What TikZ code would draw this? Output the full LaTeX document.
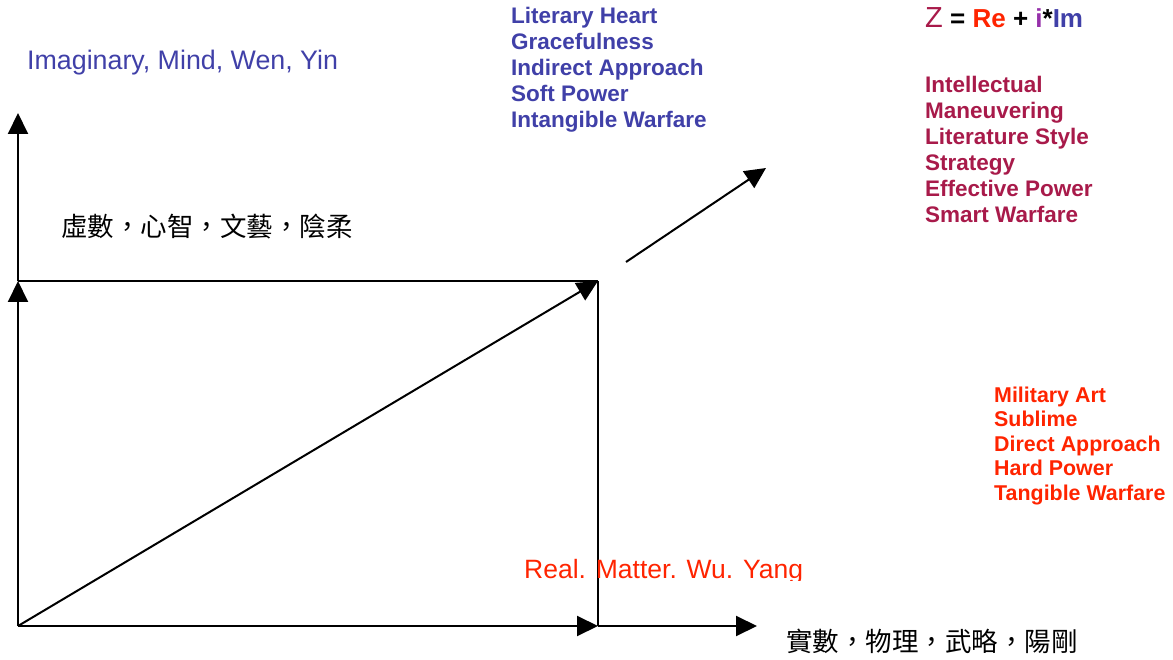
\documentclass[tikz,border=0pt]{standalone}
\usepackage{fontspec}
\setmainfont{Liberation Sans}
\newfontfamily\cjk{Noto Sans CJK TC}
\usetikzlibrary{arrows.meta}
\definecolor{blueT}{RGB}{64,64,168}
\definecolor{redT}{RGB}{255,36,0}
\definecolor{maroonT}{RGB}{168,26,74}
\definecolor{purpleT}{RGB}{150,48,170}
\tikzset{
  axis/.style={line width=2pt, -{Triangle[length=21pt,width=20pt]}},
  plain/.style={line width=2pt},
  lbl/.style={inner sep=0pt, anchor=base west},
  bluelist/.style={lbl, text=blueT, font=\fontsize{22.5}{26}\selectfont\bfseries},
  maroonlist/.style={lbl, text=maroonT, font=\fontsize{22.5}{26}\selectfont\bfseries},
  redlist/.style={lbl, text=redT, font=\fontsize{21.4}{24.5}\selectfont\bfseries},
  cjklbl/.style={inner sep=0pt, anchor=west, font=\cjk\fontsize{26.5}{30}\selectfont}
}
\begin{document}
\begin{tikzpicture}[x=1pt,y=-1pt]
\useasboundingbox (0,0) rectangle (1173,660);
% points
\coordinate (O) at (18,626);
\coordinate (A) at (18,281);
\coordinate (T) at (18,113);
\coordinate (B) at (598,626);
\coordinate (C) at (598,281);
\coordinate (X) at (757,626);
\coordinate (P) at (626,262);
\coordinate (Q) at (766,168);
% lines
\draw[plain] (A) -- (C);
\draw[plain] (C) -- (B);
\draw[axis] (O) -- (A);
\draw[axis] (A) -- (T);
\draw[axis] (O) -- (B);
\draw[axis] (B) -- (X);
\draw[axis] (O) -- (C);
\draw[axis] (P) -- (Q);
% labels
\node[lbl, text=blueT, font=\fontsize{26.8}{30}\selectfont] (imag) at (27,70) {Imaginary, Mind, Wen, Yin};
\node[cjklbl] (imagcn) at (61,227) {虛數，心智，文藝，陰柔};
\node[cjklbl] (realcn) at (786,641) {實數，物理，武略，陽剛};
\begin{scope}
\clip (500,540) rectangle (830,580);
\node[lbl, text=redT, font=\fontsize{26.5}{30}\selectfont] (real) at (524,578) {Real. Matter. Wu. Yang};
\end{scope}
\foreach \t [count=\i] in {Literary Heart, Gracefulness, Indirect Approach, Soft Power, Intangible Warfare}
  \node[bluelist] (blue\i) at (511,{24+26*(\i-1)}) {\t};
\foreach \t [count=\i] in {Intellectual, Maneuvering, Literature Style, Strategy, Effective Power, Smart Warfare}
  \node[maroonlist] (mar\i) at (925,{93+26*(\i-1)}) {\t};
\foreach \t [count=\i] in {Military Art, Sublime, Direct Approach, Hard Power, Tangible Warfare}
  \node[redlist] (red\i) at (994,{402+24.5*(\i-1)}) {\t};
\node[lbl, font=\fontsize{26}{30}\selectfont\bfseries] (formula) at (925,28)
  {\textcolor{maroonT}{\fontsize{29}{30}\selectfont\mdseries Z} = \textcolor{redT}{Re} + \textcolor{purpleT}{i}*\textcolor{blueT}{Im}};
\end{tikzpicture}
\end{document}
